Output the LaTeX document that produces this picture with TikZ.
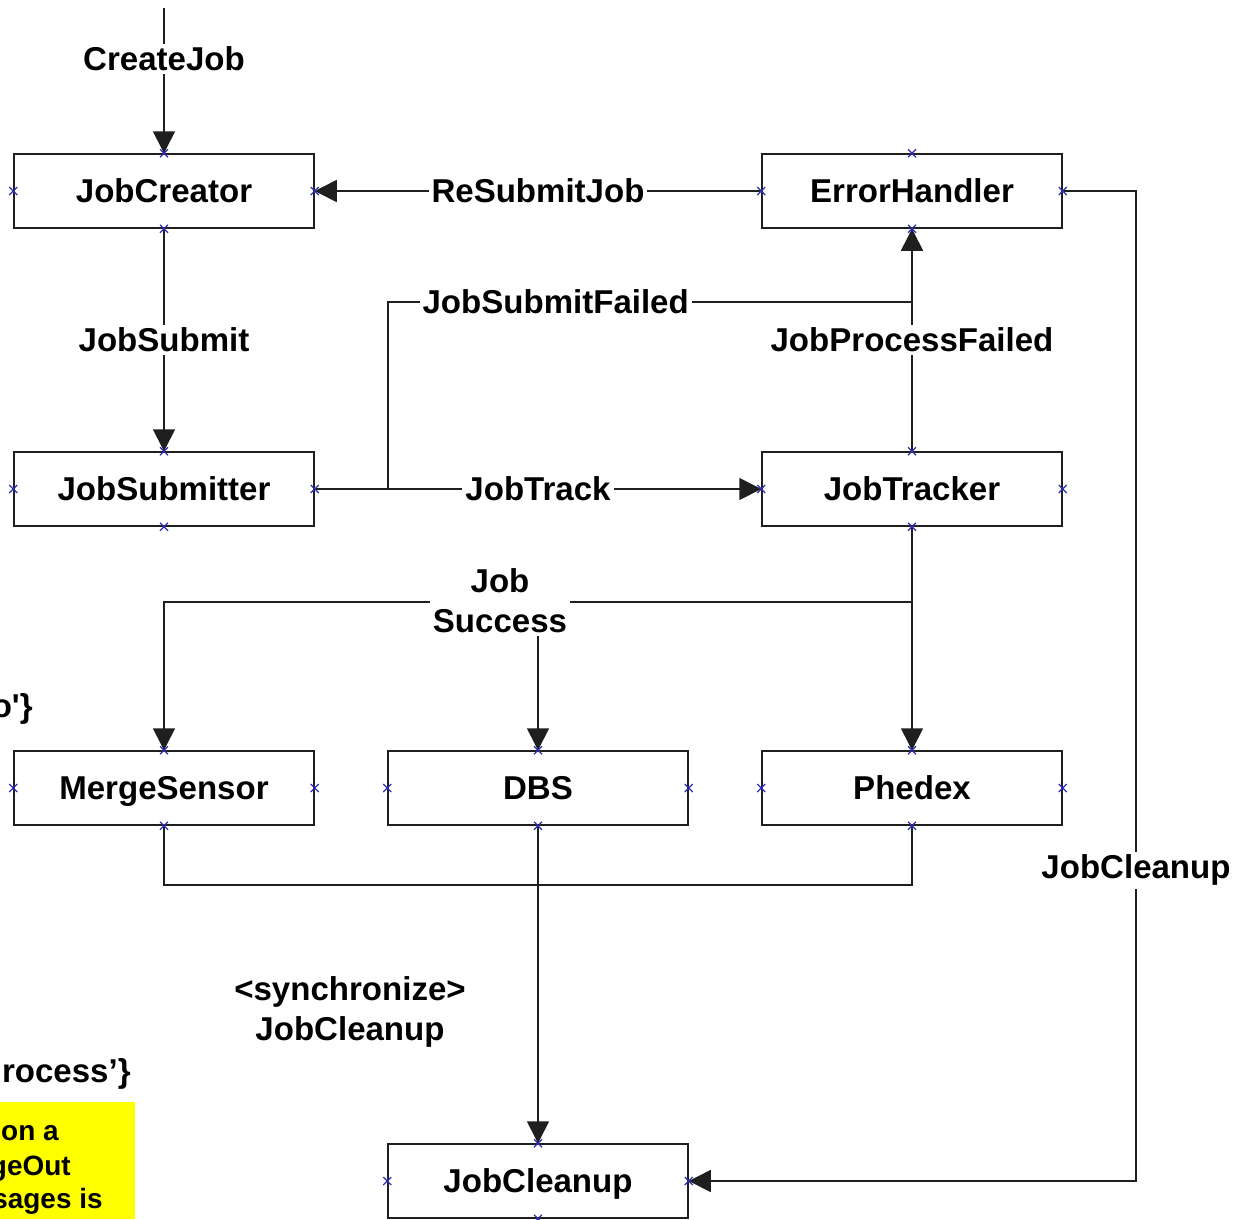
\documentclass[tikz,border=0pt]{standalone}
\usepackage{fontspec}
\setmainfont{Liberation Sans}
\usetikzlibrary{arrows.meta}
\newlength{\du}
\setlength{\du}{0.2mm}
\definecolor{dialinecolor}{rgb}{0.120000, 0.120000, 0.120000}
\definecolor{markcolor}{rgb}{0.180000, 0.180000, 0.700000}
\definecolor{notecolor}{rgb}{1.000000, 1.000000, 0.000000}
\tikzset{
  agent/.style={draw=dialinecolor, line width=1.5\du, fill=white,
    minimum width=300\du, minimum height=74\du, inner sep=0pt,
    text height=13.5pt, text depth=0pt,
    font=\fontsize{18.8}{22.7}\selectfont\bfseries},
  flow/.style={draw=dialinecolor, line width=1.6\du},
  flowarrow/.style={flow, -{Triangle[length=4.4mm,width=4.4mm]}},
  msg/.style={fill=white, inner sep=3\du, align=center,
    font=\fontsize{18.8}{22.7}\selectfont\bfseries},
  cutoff/.style={inner sep=0pt, anchor=base east,
    font=\fontsize{18.8}{22.7}\selectfont\bfseries},
  notetext/.style={inner sep=0pt, anchor=base east,
    font=\fontsize{15.9}{19}\selectfont\bfseries},
  xmark/.style={draw=markcolor, line width=1.2\du}
}

\begin{document}
\begin{tikzpicture}
\pgftransformxscale{1.000000}
\pgftransformyscale{-1.000000}
\useasboundingbox (0\du,0\du) rectangle (1247\du,1219\du);
\clip (0\du,0\du) rectangle (1247\du,1219\du);
\fill[white] (0\du,0\du) rectangle (1247\du,1219\du);
% agents
\node[agent] (creator) at (164\du,191\du) {JobCreator};
\node[agent] (handler) at (912\du,191\du) {ErrorHandler};
\node[agent] (submitter) at (164\du,489\du) {JobSubmitter};
\node[agent] (tracker) at (912\du,489\du) {JobTracker};
\node[agent] (merger) at (164\du,788\du) {MergeSensor};
\node[agent] (dbs) at (538\du,788\du) {DBS};
\node[agent] (phedex) at (912\du,788\du) {Phedex};
\node[agent] (cleanup) at (538\du,1181\du) {JobCleanup};
% free ends and bends
\coordinate (feed) at (164\du,8\du);
\coordinate (split) at (388\du,489\du);
\coordinate (failjoin) at (912\du,302\du);
\coordinate (okjoin) at (912\du,602\du);
\coordinate (syncbar) at (538\du,885\du);
\coordinate (cleanbend) at (1136\du,191\du);
% messages
\draw[flowarrow] (feed) -- (creator.north) node[msg,pos=0.35] (lblcreate) {CreateJob};
\draw[flowarrow] (handler.west) -- (creator.east) node[msg,pos=0.5] (lblresubmit) {ReSubmitJob};
\draw[flowarrow] (creator.south) -- (submitter.north) node[msg,pos=0.5] (lblsubmit) {JobSubmit};
\draw[flowarrow] (submitter.east) -- (tracker.west) node[msg,pos=0.5] (lbltrack) {JobTrack};
\draw[flow] (split) |- (failjoin) node[msg,pos=0.66] (lblfail) {JobSubmitFailed};
\draw[flowarrow] (tracker.north) -- (handler.south) node[msg,pos=0.5] (lblprocfail) {JobProcessFailed};
\draw[flowarrow] (tracker.south) -- (phedex.north);
\draw[flowarrow] (okjoin) -| (merger.north);
\draw[flowarrow] (okjoin -| dbs.north) -- (dbs.north);
\node[msg] (lblsuccess) at (500\du,601\du) {Job\\Success};
\draw[flow] (merger.south) |- (syncbar) -| (phedex.south);
\draw[flowarrow] (dbs.south) -- (cleanup.north);
\node[msg] (lblsync) at (350\du,1012\du) {<synchronize>\\JobCleanup};
\draw[flowarrow] (handler.east) -- (cleanbend) |- (cleanup.east) node[msg,pos=0.343] (lblclean) {JobCleanup};
% connection points
\foreach \n in {creator,handler,submitter,tracker,merger,dbs,phedex,cleanup}{
  \foreach \a in {north,south,east,west}{
    \draw[xmark] (\n.\a) ++(-4\du,-4\du) -- ++(8\du,8\du) ++(-8\du,0\du) -- ++(8\du,-8\du);
  }
}
% text cut by the frame
\node[cutoff] (fraga) at (33\du,717\du) {o\textquotesingle\}};
\node[cutoff] (fragb) at (131\du,1082\du) {rocess’\}};
\fill[notecolor] (0\du,1102\du) rectangle (135\du,1219\du);
\node[notetext] (notea) at (59\du,1140\du) {on a};
\node[notetext] (noteb) at (71\du,1175\du) {geOut};
\node[notetext] (notec) at (103\du,1208\du) {sages is};
\end{tikzpicture}
\end{document}
